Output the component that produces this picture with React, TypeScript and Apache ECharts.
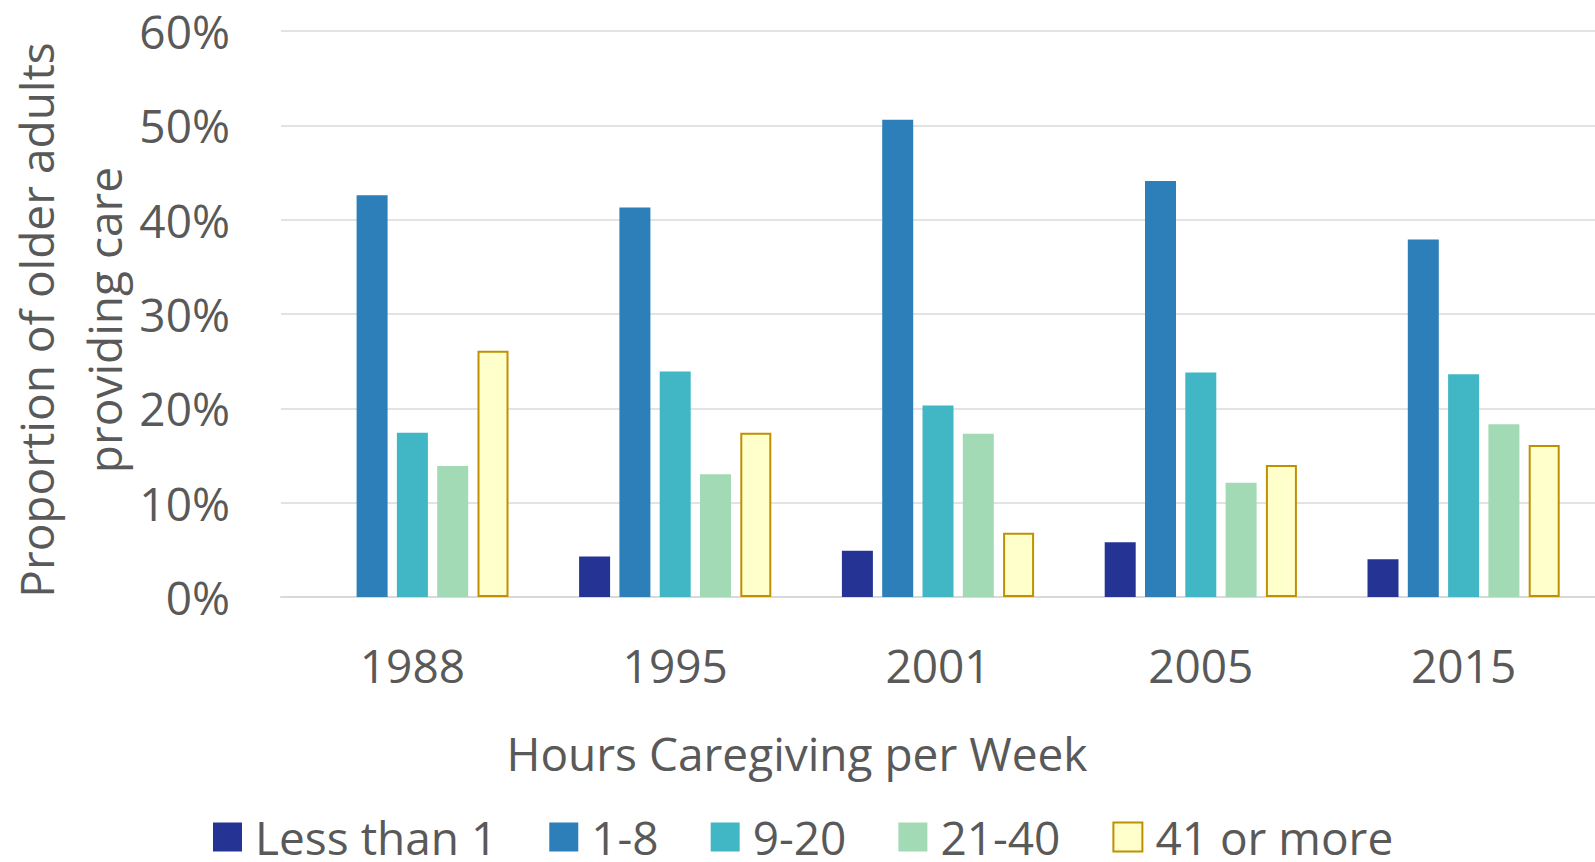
import React, { useEffect, useRef } from "react";
import * as echarts from "echarts";

const years = ["1988", "1995", "2001", "2005", "2015"];
const seriesNames = ["Less than 1", "1-8", "9-20", "21-40", "41 or more"];
const lessThan1 = [null, 4.3, 4.9, 5.8, 4.0];
const h1to8 = [42.6, 41.3, 50.6, 44.1, 37.9];
const h9to20 = [17.4, 23.9, 20.3, 23.8, 23.6];
const h21to40 = [13.9, 13.0, 17.3, 12.1, 18.3];
const h41plus = [26.1, 17.4, 6.8, 14.0, 16.1];
const yTicks = [0, 10, 20, 30, 40, 50, 60];

const colors = ["#253494", "#2c7fb8", "#41b6c4", "#a1dab4", "#ffffcc"];
const textColor = "#595959";
const font = "Open Sans";

export default function App() {
  const ref = useRef<HTMLDivElement>(null);
  useEffect(() => {
    if (!ref.current) return;
    const chart = echarts.init(ref.current, null, { renderer: "svg" });
    const data = [lessThan1, h1to8, h9to20, h21to40, h41plus];
    const series = seriesNames.map((name, i) => ({
      name,
      type: "bar",
      data: data[i],
      barWidth: 31,
      barGap: "30%",
      itemStyle:
        i === 4
          ? { color: colors[i], borderColor: "#bf9000", borderWidth: 2 }
          : { color: colors[i] },
    }));
    chart.setOption({
      animation: false,
      textStyle: { fontFamily: font },
      grid: { left: 281, right: 0, top: 31, bottom: 265, containLabel: false },
      xAxis: {
        type: "category",
        data: years,
        axisTick: { show: false },
        axisLine: { show: true, lineStyle: { color: "#d9d9d9", width: 2 } },
        axisLabel: { color: textColor, fontSize: 46, fontFamily: font, margin: 45 },
      },
      yAxis: {
        type: "value",
        min: yTicks[0],
        max: yTicks[yTicks.length - 1],
        interval: 10,
        axisLine: { show: false },
        axisTick: { show: false },
        splitLine: { lineStyle: { color: "#e3e3e3", width: 2 } },
        axisLabel: {
          color: textColor,
          fontSize: 46,
          fontFamily: font,
          margin: 51,
          formatter: "{value}%",
        },
      },
      legend: {
        data: seriesNames,
        left: 208,
        top: 809,
        itemWidth: 29,
        itemHeight: 29,
        itemGap: 52,
        textStyle: {
          color: textColor,
          fontSize: 46,
          lineHeight: 40,
          fontFamily: font,
          padding: [0, 0, 0, 8],
        },
        icon: "rect",
      },
      graphic: [
        {
          type: "text",
          x: 797,
          y: 753,
          style: {
            text: "Hours Caregiving per Week",
            fill: textColor,
            font: `46px "${font}"`,
            textAlign: "center",
            textVerticalAlign: "middle",
          },
        },
        {
          type: "text",
          x: 70,
          y: 320,
          rotation: Math.PI / 2,
          style: {
            text: "Proportion of older adults\nproviding care",
            fill: textColor,
            font: `46px "${font}"`,
            lineHeight: 68,
            textAlign: "center",
            textVerticalAlign: "middle",
          },
        },
      ],
      series,
    });
    return () => chart.dispose();
  }, []);
  return (
    <div
      ref={ref}
      style={{ position: "fixed", left: 0, top: 0, width: 1595, height: 862, background: "#fff" }}
    />
  );
}
